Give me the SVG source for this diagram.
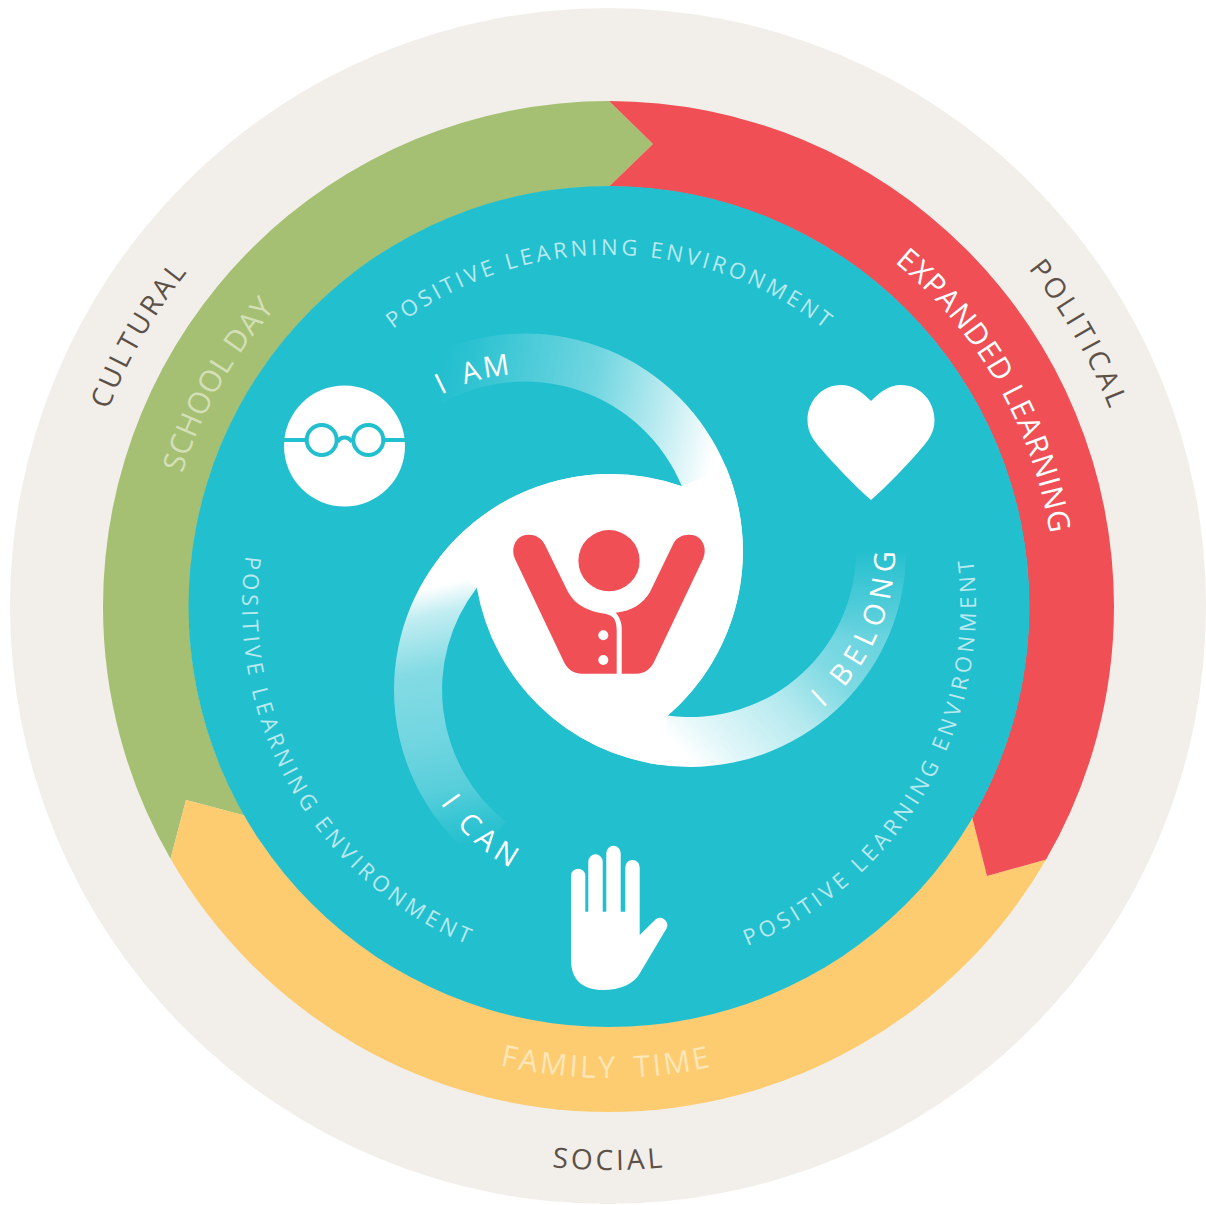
<svg xmlns="http://www.w3.org/2000/svg" width="1206" height="1205" viewBox="0 0 1206 1205">
<style>
text{font-family:"Open Sans","Liberation Sans",sans-serif}
.ple{font-size:22px;fill:#b9e9ee;letter-spacing:3.5px}
.ple2{letter-spacing:4.1px}
.ring{font-size:30px}
.out{font-size:28px;fill:#5c5148;letter-spacing:3.5px}
.self{font-size:29px;fill:#fff;letter-spacing:2.5px}
</style>
<defs>
<path id="pTop" d="M305 430.5A351 351 0 0 1 913 430.5"/>
<path id="pRight" d="M609 973A367 367 0 0 0 926.8 422.5"/>
<path id="pLeft" d="M291.2 422.5A367 367 0 0 0 609 973"/>
<path id="pSchool" d="M222 829.5A447 447 0 0 1 609 159"/>
<path id="pExpanded" d="M609 159A447 447 0 0 1 996 829.5"/>
<path id="pFamily" d="M373 1014.8A472 472 0 0 0 845 1014.8"/>
<path id="pCultural" d="M143.1 875A538 538 0 0 1 609 68"/>
<path id="pPolitical" d="M609 68A538 538 0 0 1 1074.9 875"/>
<path id="pSocial" d="M327 1094.4A564 564 0 0 0 891 1094.4"/>
<path id="pAm" d="M352.3 508.9A178 178 0 0 1 648.7 424"/>
<path id="pBelong" d="M707.9 756.2A205 205 0 0 0 857.9 434.4"/>
<path id="pCan" d="M410.5 647.6A204 204 0 0 0 673 884"/>
<linearGradient id="gA" gradientUnits="userSpaceOnUse" x1="715" y1="445" x2="425" y2="380">
<stop offset="0" stop-color="#fff"/><stop offset=".21" stop-color="#fff" stop-opacity=".68"/><stop offset=".44" stop-color="#fff" stop-opacity=".36"/><stop offset=".69" stop-color="#fff" stop-opacity=".18"/><stop offset=".86" stop-color="#fff" stop-opacity=".05"/><stop offset=".96" stop-color="#fff" stop-opacity="0"/>
</linearGradient>
<linearGradient id="gB" gradientUnits="userSpaceOnUse" x1="680" y1="750" x2="897" y2="540">
<stop offset="0" stop-color="#fff"/><stop offset=".107" stop-color="#fff" stop-opacity=".88"/><stop offset=".36" stop-color="#fff" stop-opacity=".66"/><stop offset=".54" stop-color="#fff" stop-opacity=".42"/><stop offset=".705" stop-color="#fff" stop-opacity=".33"/><stop offset="1" stop-color="#fff" stop-opacity=".33"/>
</linearGradient>
<linearGradient id="fadeB" gradientUnits="userSpaceOnUse" x1="0" y1="548" x2="0" y2="640">
<stop offset="0" stop-color="#000"/><stop offset="1" stop-color="#fff"/>
</linearGradient>
<mask id="mB" maskUnits="userSpaceOnUse" x="400" y="500" width="550" height="300"><rect x="400" y="500" width="550" height="300" fill="url(#fadeB)"/></mask>
<linearGradient id="gC" gradientUnits="userSpaceOnUse" x1="420" y1="590" x2="478" y2="852">
<stop offset="0" stop-color="#fff"/><stop offset=".1" stop-color="#fff" stop-opacity=".72"/><stop offset=".3" stop-color="#fff" stop-opacity=".44"/><stop offset=".55" stop-color="#fff" stop-opacity=".36"/><stop offset=".75" stop-color="#fff" stop-opacity=".24"/><stop offset=".88" stop-color="#fff" stop-opacity=".08"/><stop offset=".97" stop-color="#fff" stop-opacity="0"/>
</linearGradient>
</defs>
<rect width="1206" height="1205" fill="#fff"/>
<g id="outer-ring">
<circle cx="608" cy="606" r="598" fill="#f2efea"/>
<text class="out" style="letter-spacing:3px"><textPath href="#pCultural" startOffset="50%" text-anchor="middle">CULTURAL</textPath></text>
<text class="out"><textPath href="#pPolitical" startOffset="50%" text-anchor="middle">POLITICAL</textPath></text>
<text class="out" style="letter-spacing:3.2px"><textPath href="#pSocial" startOffset="50%" text-anchor="middle">SOCIAL</textPath></text>
</g>
<g id="school-day">
<path fill="#a5c073" d="M609 101L653 144L609 186.5A420 420 0 0 0 189 606.5A420 420 0 0 0 244.7 815.6L186 800L170.5 858.8A505.5 505.5 0 0 1 103 606.5A505.5 505.5 0 0 1 609 101Z"/>
<text class="ring" fill="#d3dfb6" style="letter-spacing:.6px"><textPath href="#pSchool" startOffset="49.6%" text-anchor="middle">SCHOOL DAY</textPath></text>
</g>
<g id="family-time">
<path fill="#fecc70" d="M244.7 815.6L186 800L170.5 858.8A505.5 505.5 0 0 0 608.5 1112A505.5 505.5 0 0 0 1046.1 859.5L987 876L972.2 817.5A420 420 0 0 1 609 1026.5A420 420 0 0 1 244.7 815.6Z"/>
<text class="ring" fill="#fde6b8" style="letter-spacing:2.8px;word-spacing:6px"><textPath href="#pFamily" startOffset="49.5%" text-anchor="middle">FAMILY TIME</textPath></text>
</g>
<g id="expanded-learning">
<path fill="#f04f55" d="M609 101L653 144L609 186.5A420 420 0 0 1 1029 606.5A420 420 0 0 1 972.2 817.5L987 876L1046.1 859.5A505.5 505.5 0 0 0 1114 606.5A505.5 505.5 0 0 0 609 101Z"/>
<text class="ring" fill="#fff" style="letter-spacing:.8px"><textPath href="#pExpanded" startOffset="50.2%" text-anchor="middle">EXPANDED LEARNING</textPath></text>
</g>
<g id="environment">
<circle cx="609" cy="606.5" r="420.5" fill="#22bfcf"/>
<text class="ple"><textPath href="#pTop" startOffset="50.2%" text-anchor="middle">POSITIVE LEARNING ENVIRONMENT</textPath></text>
<text class="ple ple2"><textPath href="#pRight" startOffset="50%" text-anchor="middle">POSITIVE LEARNING ENVIRONMENT</textPath></text>
<text class="ple ple2"><textPath href="#pLeft" startOffset="50%" text-anchor="middle">POSITIVE LEARNING ENVIRONMENT</textPath></text>
</g>
<g id="swirl">
<path fill="url(#gA)" d="M667.3 716A218 218 0 0 0 743 551.5A218 218 0 0 0 525 333.5A218 218 0 0 0 413.75 364.06L438.25 405.3A170 170 0 0 1 681.9 486.3Z"/>
<path fill="url(#gB)" mask="url(#mB)" d="M477 586.8A216 216 0 0 0 690 767A216 216 0 0 0 906 551A216 216 0 0 0 905.7 539.7L855.8 542.3A166 166 0 0 1 667.1 715.4Z"/>
<path fill="url(#gC)" d="M681.9 486.3A216 216 0 0 0 610 474A216 216 0 0 0 394 690A216 216 0 0 0 475.8 859.2L505.6 821.6A168 168 0 0 1 476.8 587.7Z"/>
<path fill="#fff" d="M681.9 486.3A216 216 0 0 0 610 474A216 216 0 0 0 438.7 558.5L476.8 587.7A216 216 0 0 0 660.2 764.9L667.3 716A218 218 0 0 0 726.2 467.6Z"/>
<text class="self" style="word-spacing:5px"><textPath href="#pAm" startOffset="50%" text-anchor="middle">I AM</textPath></text>
<text class="self" style="letter-spacing:6.7px"><textPath href="#pBelong" startOffset="51%" text-anchor="middle">I BELONG</textPath></text>
<text class="self" style="letter-spacing:5.5px"><textPath href="#pCan" startOffset="50%" text-anchor="middle">I CAN</textPath></text>
</g>
<g id="person" fill="#f04f55">
<circle cx="609" cy="560.7" r="30.6"/>
<path d="M545 545C540 535 530 533 522 536C514 540 511 550 515 559L563 660C567 669 573 673.7 582 673.7H616.7V630C616.7 620 613 615 605 613.8C588 611 576 606 568 592Z"/>
<path d="M621.7 673.7V628C621.7 622 619 616 615.7 612.7C632 611 643 604 650 592L672.7 545C677 535 688 533 696 536C704 540 707 550 703 559L655 660C651 669 645 673.7 636 673.7Z"/>
<circle cx="603.3" cy="635.3" r="5" fill="#fff"/>
<circle cx="603.3" cy="660" r="5" fill="#fff"/>
</g>
<g id="glasses-icon">
<circle cx="344.5" cy="446" r="60.5" fill="#fff"/>
<g fill="none" stroke="#22bfcf" stroke-width="4">
<circle cx="321.7" cy="440" r="15"/>
<circle cx="368.3" cy="440" r="15"/>
<path d="M284 440H306.7M383.3 440H405M337.5 442C341 436 348 436 352 442"/>
</g>
</g>
<g id="heart-icon">
<path fill="#fff" d="M871 401C862 392 853 385 841 385C822 385 807.500 401 807.500 420C807.500 433 814 441 822 450C835 465 855 486 871 500C887 486 907 465 920 450C928 441 934.500 433 934.500 420C934.500 401 920 385 901 385C889 385 880 392 871 401Z"/>
</g>
<g id="hand-icon">
<path fill="#fff" d="M571 875A7.2 7.2 0 0 1 585.3 875V911.7H588.3V861.5A7.2 7.2 0 0 1 602.7 861.5V911.7H606.3V853A7.2 7.2 0 0 1 620.7 853V911.7H625.3V867.2A7.2 7.2 0 0 1 639.7 867.2V935L655 920C659 916 665 918 667 923C668 926 667 928 665 931L640 973C634 984 620 990 603 990C584 990 571 981 571 960Z"/>
</g>
</svg>
